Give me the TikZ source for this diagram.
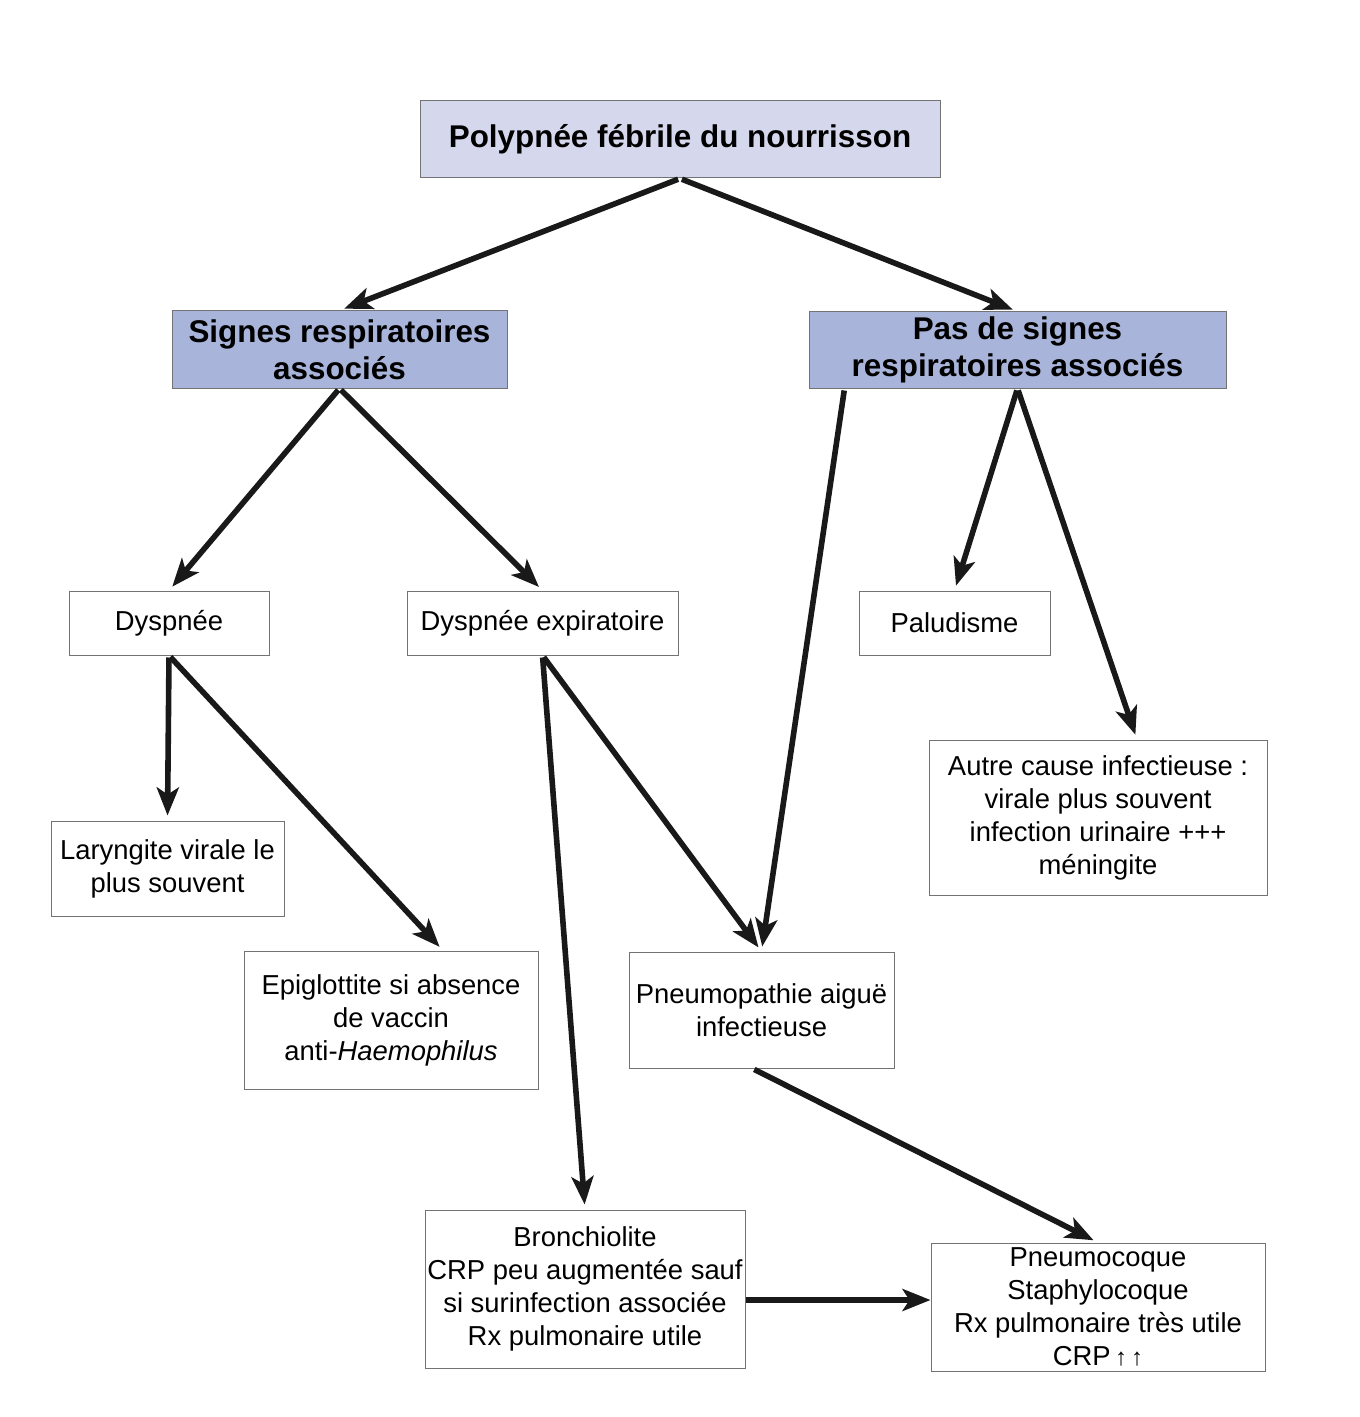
\documentclass[tikz,border=0pt]{standalone}
\usepackage{fontspec}
\setmainfont{Liberation Sans}
\usetikzlibrary{arrows.meta}
\definecolor{headfill}{RGB}{213,216,236}
\definecolor{branchfill}{RGB}{168,180,218}

\begin{document}
\begin{tikzpicture}[x=0.5pt, y=-0.5pt,
    box/.style={rectangle, draw=black!55, line width=0.5pt, align=center, inner sep=0pt,
        font=\fontsize{13.7}{16.5}\selectfont},
    head/.style={box, fill=headfill, font=\bfseries\fontsize{15.7}{18.5}\selectfont},
    branch/.style={head, fill=branchfill},
    link/.style={-{Stealth[length=14pt, width=11pt, inset=3.5pt]}, line width=2.8pt,
        black!90, shorten >=2.5pt, shorten <=1pt}]
    \useasboundingbox (0,0) rectangle (1359,1417);

    % Define nodes
    \node [head, minimum width=260pt, minimum height=38.5pt] (fever) at (680,139.5) {Polypnée fébrile du nourrisson};
    \node [branch, minimum width=167.5pt, minimum height=38.5pt] (resp) at (339.5,349.5) {Signes respiratoires\\associés};
    \node [branch, minimum width=208.5pt, minimum height=38pt] (noresp) at (1017.5,350) {Pas de signes\\respiratoires associés};

    \node [box, minimum width=100pt, minimum height=32pt] (dysp) at (169,623) {Dyspnée};
    \node [box, minimum width=135.5pt, minimum height=32pt] (dexp) at (542.5,623) {Dyspnée expiratoire};
    \node [box, minimum width=95.5pt, minimum height=32pt] (palu) at (954.5,623) {Paludisme};
    \node [box, minimum width=169pt, minimum height=77.5pt] (other) at (1098,817.5) {Autre cause infectieuse :\\virale plus souvent\\infection urinaire +++\\méningite};

    \node [box, minimum width=116.5pt, minimum height=47.5pt] (laryng) at (167.5,868.5) {Laryngite virale le\\plus souvent};
    \node [box, minimum width=147pt, minimum height=69pt] (epig) at (391,1020) {Epiglottite si absence\\de vaccin\\anti-\textit{Haemophilus}};
    \node [box, minimum width=132.5pt, minimum height=58pt] (pneumo) at (761.5,1010) {Pneumopathie aiguë\\infectieuse};

    \node [box, minimum width=160pt, minimum height=79pt] (bronch) at (585,1289) {Bronchiolite\\CRP peu augmentée sauf\\si surinfection associée\\Rx pulmonaire utile};
    \node [box, minimum width=167pt, minimum height=64pt] (germs) at (1098,1307) {Pneumocoque\\Staphylocoque\\Rx pulmonaire très utile\\CRP\,{\fontsize{12}{12}\selectfont↑\,↑}};

    \coordinate (rxout) at ([yshift=-5.5pt]bronch.east);

    % Draw edges
    \draw [link] (fever.south) -- (resp.north);
    \draw [link] (fever.south) -- (noresp.north);
    \draw [link] (resp.south) -- (dysp.north);
    \draw [link] (resp.south) -- (dexp.north);
    \draw [link] ([xshift=18pt]noresp.south west) -- (pneumo.north);
    \draw [link] (noresp.south) -- (palu.north);
    \draw [link] (noresp.south) -- ([xshift=19.5pt]other.north);
    \draw [link] (dysp.south) -- (laryng.north);
    \draw [link] (dysp.south) -- ([xshift=26pt]epig.north);
    \draw [link] (dexp.south) -- (bronch.north);
    \draw [link] (dexp.south) -- (pneumo.north);
    \draw [link] ([xshift=-4.5pt]pneumo.south) -- (germs.north);
    \draw [link, shorten >=0pt, shorten <=0pt] (rxout) -- (rxout -| germs.west);
\end{tikzpicture}
\end{document}
